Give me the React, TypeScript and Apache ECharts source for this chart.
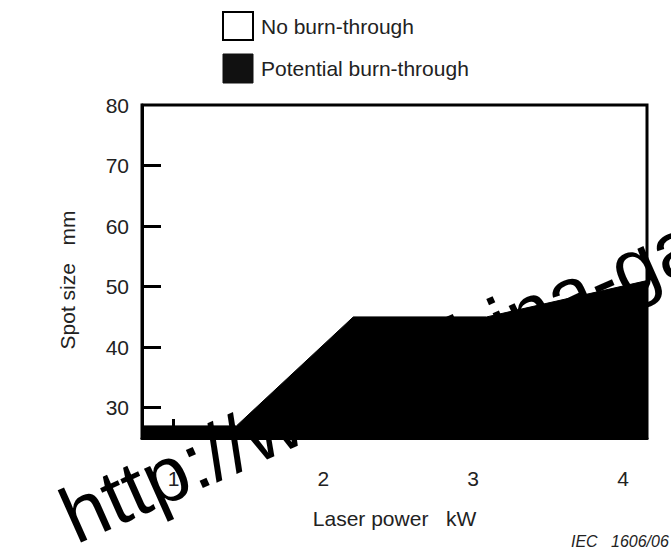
import React, { useEffect, useRef } from "react";
import * as echarts from "echarts";

// Data
const powerKW = [0.79, 1.42, 2.2, 3.09, 4.16];
const spotSizeMM = [27, 27, 45, 45, 51];
const xTickValues = [1, 2, 3, 4];
const yTickValues = [30, 40, 50, 60, 70];
const yLabelValues = [30, 40, 50, 60, 70, 80];
const legendNames = ["No burn-through", "Potential burn-through"];

const FONT = '"Liberation Sans", Arial, Helvetica, sans-serif';

export default function App() {
  const ref = useRef<HTMLDivElement>(null);

  useEffect(() => {
    if (!ref.current) return;
    const chart = echarts.init(ref.current, null, { renderer: "svg" });
    const data = powerKW.map((x, i) => [x, spotSizeMM[i]]);

    chart.setOption({
      animation: false,
      backgroundColor: "#ffffff",
      grid: {
        left: 142,
        right: 24,
        top: 105,
        bottom: 112,
        show: true,
        borderColor: "#000",
        borderWidth: 3,
        backgroundColor: "transparent",
      },
      xAxis: {
        type: "value",
        min: 0.79,
        max: 4.16,
        name: "Laser power   kW",
        nameLocation: "middle",
        nameGap: 70,
        nameTextStyle: { fontFamily: FONT, fontSize: 21, color: "#222" },
        axisLine: { show: true, lineStyle: { color: "#000", width: 3 } },
        axisTick: {
          show: true,
          inside: true,
          length: 19,
          customValues: xTickValues,
          lineStyle: { color: "#000", width: 3 },
        },
        axisLabel: {
          customValues: xTickValues,
          margin: 30,
          fontFamily: FONT,
          fontSize: 21,
          color: "#222",
        },
        splitLine: { show: false },
      },
      yAxis: {
        type: "value",
        min: 25,
        max: 80,
        axisLine: { show: true, lineStyle: { color: "#000", width: 3 } },
        axisTick: {
          show: true,
          inside: true,
          length: 19,
          customValues: yTickValues,
          lineStyle: { color: "#000", width: 3 },
        },
        axisLabel: {
          customValues: yLabelValues,
          margin: 13,
          fontFamily: FONT,
          fontSize: 21,
          color: "#222",
        },
        splitLine: { show: false },
      },
      series: [
        {
          name: legendNames[1],
          type: "line",
          data,
          symbol: "none",
          lineStyle: { color: "#000", width: 1 },
          areaStyle: { color: "#000", opacity: 1, origin: "start" },
          z: 1,
        },
      ],
      graphic: [
        {
          type: "rect",
          shape: { x: 223, y: 12, width: 30, height: 28 },
          style: { fill: "#fff", stroke: "#000", lineWidth: 2 },
        },
        {
          type: "text",
          x: 261,
          y: 26,
          style: {
            text: legendNames[0],
            font: `21px ${FONT}`,
            fill: "#222",
            textAlign: "left",
            verticalAlign: "middle",
          },
        },
        {
          type: "rect",
          shape: { x: 223, y: 54, width: 30, height: 29 },
          style: { fill: "#111", stroke: "#111", lineWidth: 1 },
        },
        {
          type: "text",
          x: 261,
          y: 68,
          style: {
            text: legendNames[1],
            font: `21px ${FONT}`,
            fill: "#222",
            textAlign: "left",
            verticalAlign: "middle",
          },
        },
        {
          type: "text",
          x: 67,
          y: 280,
          rotation: Math.PI / 2,
          style: {
            text: "Spot size   mm",
            font: `21px ${FONT}`,
            fill: "#222",
            textAlign: "center",
            verticalAlign: "middle",
          },
        },
        {
          type: "text",
          x: 571,
          y: 541,
          style: {
            text: "IEC   1606/06",
            font: `italic 16px ${FONT}`,
            fill: "#222",
            textAlign: "left",
            verticalAlign: "middle",
          },
        },
        {
          type: "text",
          x: 65,
          y: 520,
          rotation: 0.419,
          z: 100,
          style: {
            text: "http://www.china-gauges.com",
            font: `79px ${FONT}`,
            fill: "#000",
            textAlign: "left",
            verticalAlign: "middle",
          },
        },
      ],
    });

    return () => chart.dispose();
  }, []);

  return (
    <div
      ref={ref}
      style={{ position: "fixed", left: 0, top: 0, width: 671, height: 550 }}
    />
  );
}
